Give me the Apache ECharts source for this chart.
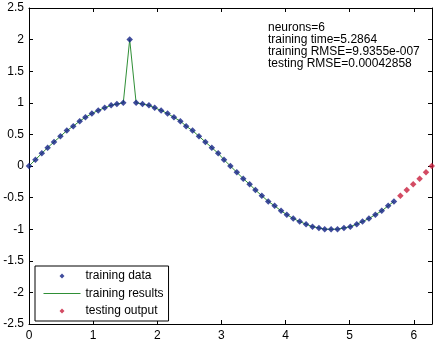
<!DOCTYPE html>
<html>
<head>
<meta charset="utf-8">
<script src="https://cdn.jsdelivr.net/npm/echarts@6/dist/echarts.min.js"></script>
<style>
  html, body { margin: 0; padding: 0; background: #fff; }
  #chart { width: 435px; height: 354px; }
</style>
</head>
<body>
<div id="chart"></div>
<script>
// values
const trainX = [0.00, 0.10, 0.20, 0.29, 0.39, 0.49, 0.59, 0.69, 0.79, 0.88,
  0.98, 1.08, 1.18, 1.28, 1.37, 1.47, 1.57, 1.67, 1.77, 1.87,
  1.96, 2.06, 2.16, 2.26, 2.36, 2.45, 2.55, 2.65, 2.75, 2.85,
  2.95, 3.04, 3.14, 3.24, 3.34, 3.44, 3.53, 3.63, 3.73, 3.83,
  3.93, 4.02, 4.12, 4.22, 4.32, 4.42, 4.52, 4.61, 4.71, 4.81,
  4.91, 5.01, 5.11, 5.20, 5.30, 5.40, 5.50, 5.60, 5.69]
const trainY = [0.00, 0.10, 0.20, 0.29, 0.38, 0.47, 0.56, 0.63, 0.71, 0.77,
  0.83, 0.88, 0.92, 0.96, 0.98, 1.00, 2.00, 1.00, 0.98, 0.96,
  0.92, 0.88, 0.83, 0.77, 0.71, 0.63, 0.56, 0.47, 0.38, 0.29,
  0.20, 0.10, 0.00, -0.10, -0.20, -0.29, -0.38, -0.47, -0.56, -0.63,
  -0.71, -0.77, -0.83, -0.88, -0.92, -0.96, -0.98, -1.00, -1.00, -1.00,
  -0.98, -0.96, -0.92, -0.88, -0.83, -0.77, -0.71, -0.63, -0.56]
const testX = [5.79, 5.89, 5.99, 6.09, 6.19, 6.28]
const testY = [-0.47, -0.38, -0.29, -0.20, -0.10, 0.00]

const infoLines = [
  'neurons=6',
  'training time=5.2864',
  'training RMSE=9.9355e-007',
  'testing RMSE=0.00042858'
]

const FONT = '"Liberation Sans", Arial, sans-serif'
const BLUE = '#122184'
const RED = '#c81e3c'
const GREEN = '#2f8f36'
const zip = (xs, ys) => xs.map((x, i) => [x, ys[i]])

// marker icons fill the whole 37x5 item box so they do not get stretched
const ICON_CORNERS = 'M0,0L0.01,0L0.01,0.01Z M36.99,4.99L37,4.99L37,5Z '
const ICON_DOT = 'path://' + ICON_CORNERS + 'M18.5,0L21,2.5L18.5,5L16,2.5Z'

const frameAxis = {
  axisLine: { show: true, onZero: false, lineStyle: { color: '#000', width: 1 } },
  axisTick: { show: true, inside: true, length: 4, lineStyle: { color: '#000' } },
  splitLine: { show: false }
}

const chart = echarts.init(document.getElementById('chart'), null, { renderer: 'canvas' })

chart.setOption({
  animation: false,
  backgroundColor: '#fff',
  grid: { left: 29, right: 3, top: 8, bottom: 30, containLabel: false },
  xAxis: [
    Object.assign({
      type: 'value', position: 'bottom', min: 0, max: 6.2832, interval: 1,
      axisLabel: {
        color: '#000', fontSize: 12, fontFamily: FONT, margin: 6,
        formatter: v => (Number.isInteger(v) ? String(v) : '')
      }
    }, frameAxis),
    Object.assign({
      type: 'value', position: 'top', min: 0, max: 6.2832, interval: 1,
      axisLabel: { show: false }
    }, frameAxis)
  ],
  yAxis: [
    Object.assign({
      type: 'value', position: 'left', min: -2.5, max: 2.5, interval: 0.5,
      axisLabel: { color: '#000', fontSize: 12, fontFamily: FONT, margin: 5 }
    }, frameAxis),
    Object.assign({
      type: 'value', position: 'right', min: -2.5, max: 2.5, interval: 0.5,
      axisLabel: { show: false }
    }, frameAxis)
  ],
  legend: {
    orient: 'vertical',
    left: 35,
    top: 266,
    padding: [4, 5, 4, 8],
    itemGap: 5.5,
    itemWidth: 37,
    itemHeight: 5,
    borderColor: '#000',
    borderWidth: 1,
    backgroundColor: '#fff',
    textStyle: { color: '#000', fontSize: 12, fontFamily: FONT },
    data: [
      { name: 'training data', icon: ICON_DOT, itemStyle: { color: BLUE } },
      { name: 'training results', itemStyle: { opacity: 0 }, lineStyle: { width: 1 } },
      { name: 'testing output', icon: ICON_DOT, itemStyle: { color: RED } }
    ]
  },
  graphic: [{
    type: 'text',
    left: 268,
    top: 22,
    style: {
      text: infoLines.join('\n'),
      font: '12px ' + FONT,
      lineHeight: 12,
      fill: '#000'
    }
  }],
  series: [
    {
      name: 'training results',
      type: 'line',
      data: zip(trainX, trainY),
      symbol: 'none',
      color: GREEN,
      lineStyle: { color: GREEN, width: 1 },
      itemStyle: { color: GREEN },
      z: 2
    },
    {
      name: 'training data',
      type: 'scatter',
      data: zip(trainX, trainY),
      symbol: 'diamond',
      symbolSize: 6.5,
      itemStyle: { color: BLUE },
      z: 3
    },
    {
      name: 'testing output',
      type: 'scatter',
      data: zip(testX, testY),
      symbol: 'diamond',
      symbolSize: 6.5,
      itemStyle: { color: RED },
      z: 3
    }
  ]
})
</script>
</body>
</html>
